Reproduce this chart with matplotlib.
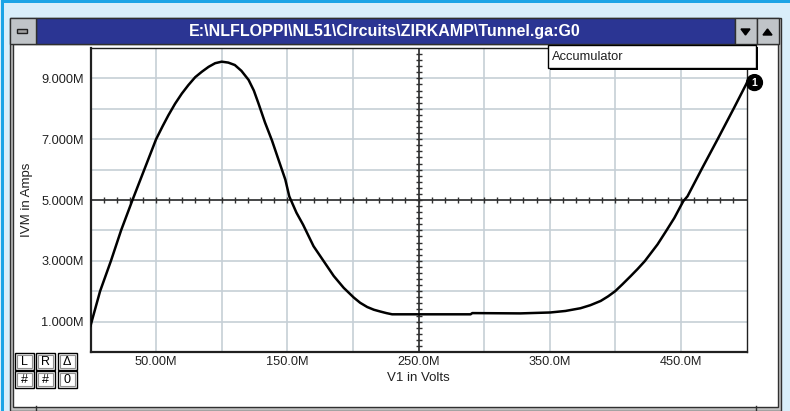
import numpy as np
import matplotlib.pyplot as plt
from matplotlib.patches import Rectangle, Polygon

plt.rcParams['font.family'] = ['Liberation Sans', 'DejaVu Sans']

# data (both axes in "M" units)
v1 = [0, 7.3, 15.6, 23.3, 32, 41, 50, 55, 59.4, 64.5, 69.6, 74.6, 79.8, 84.9,
      90, 95, 100, 105, 110, 115, 120.5, 124.5, 128, 133, 138.3, 143.5, 148.5,
      151.5, 157, 162, 170, 177.7, 185.4, 193, 200.7, 205.5, 210.9, 216,
      221, 225.5, 229.9, 250, 289.7, 291, 327.6, 350.5, 362, 373.5, 381,
      388.9, 394.5, 399.9, 405.5, 411.8, 417, 422.5, 432.2, 438.6, 445,
      451.8, 455, 466, 478, 490.5, 500]
ivm = [0.86, 2.0, 3.0, 4.0, 5.0, 6.0, 7.0, 7.43, 7.79, 8.17, 8.5, 8.78, 9.04,
       9.22, 9.38, 9.5, 9.55, 9.52, 9.44, 9.25, 8.95, 8.6, 8.18, 7.55, 6.96,
       6.3, 5.67, 5.12, 4.58, 4.19, 3.48, 2.99, 2.5, 2.11, 1.79, 1.62, 1.48,
       1.39, 1.33, 1.28, 1.24, 1.24, 1.24, 1.28, 1.27, 1.30, 1.35, 1.44, 1.54,
       1.68, 1.83, 2.0, 2.23, 2.5, 2.73, 2.99, 3.54, 3.97, 4.41, 4.96, 5.12,
       6.03, 7.0, 8.03, 8.83]

xticks = [50, 150, 250, 350, 450]
xtick_labels = ['50.00M', '150.0M', '250.0M', '350.0M', '450.0M']
yticks = [1, 3, 5, 7, 9]
ytick_labels = ['1.000M', '3.000M', '5.000M', '7.000M', '9.000M']
title = r'E:\NLFLOPPI\NL51\CIrcuits\ZIRKAMP\Tunnel.ga:G0'

W, H = 790, 411
fig = plt.figure(figsize=(W / 100, H / 100), dpi=100)
fig.patch.set_facecolor('#d9eefa')

# window chrome, drawn in pixel coordinates
chrome = fig.add_axes([0, 0, 1, 1], zorder=0)
chrome.set_xlim(0, W)
chrome.set_ylim(H, 0)
chrome.axis('off')
chrome.add_patch(Rectangle((0.5, 0.5), 3, H, color='#1ca4e6', lw=0))
chrome.add_patch(Rectangle((0.5, 0.5), W, 3, color='#1ca4e6', lw=0))
chrome.add_patch(Rectangle((9.5, 18.5), 771, 392, facecolor='#c0c0c0',
                           edgecolor='#303030', lw=1))
chrome.add_patch(Rectangle((12.5, 44.5), 765, 362, facecolor='white',
                           edgecolor='#303030', lw=1))
chrome.add_patch(Rectangle((35.5, 18.5), 699, 26, facecolor='#2b3593',
                           edgecolor='#303030', lw=1))
chrome.add_patch(Rectangle((9.5, 18.5), 26, 26, facecolor='#c0c4c8',
                           edgecolor='#303030', lw=1))
chrome.add_patch(Rectangle((17, 29), 10, 4, facecolor='#a0a0a0',
                           edgecolor='#202020', lw=1))
for bx in (734.5, 756.5):
    chrome.add_patch(Rectangle((bx, 18.5), 22, 26, facecolor='#c0c4c8',
                               edgecolor='#303030', lw=1))
chrome.add_patch(Polygon([(741, 29), (750, 29), (745.5, 35)], color='black'))
chrome.add_patch(Polygon([(763, 35), (772, 35), (767.5, 29)], color='black'))
chrome.text(385, 31.5, title, color='white', fontsize=11.5, fontweight='bold',
            ha='center', va='center')
chrome.plot([35.5, 35.5], [406, 411], color='#303030', lw=1)
chrome.plot([755.5, 755.5], [406, 411], color='#303030', lw=1)

# L R delta / # # 0 buttons
btn_text = [['L', 'R', '\u0394'], ['#', '#', '0']]
for r, row in enumerate(btn_text):
    for c, t in enumerate(row):
        x0, y0 = 14.5 + c * 21.5, 352.5 + r * 18.5
        chrome.add_patch(Rectangle((x0, y0), 19, 17, facecolor='white',
                                   edgecolor='black', lw=1))
        chrome.add_patch(Rectangle((x0 + 2, y0 + 2), 15, 13, facecolor='none',
                                   edgecolor='#909090', lw=0.8))
        chrome.text(x0 + 9.5, y0 + 9, t, fontsize=9, ha='center', va='center')

# plot area
left, right, top, bottom = 90.5, 746.5, 48, 352
ax = fig.add_axes([left / W, 1 - bottom / H, (right - left) / W, (bottom - top) / H],
                  zorder=1)
ax.set_facecolor('white')
ax.set_xlim(0, 500)
ax.set_ylim(0, 10)
ax.set_xticks(xticks)
ax.set_xticklabels(xtick_labels)
ax.set_xticks([100, 200, 300, 400], minor=True)
ax.set_yticks(yticks)
ax.set_yticklabels(ytick_labels)
ax.set_yticks([2, 4, 6, 8], minor=True)
ax.tick_params(which='both', length=0, labelsize=9.2, colors='#202020')
ax.tick_params(axis='x', pad=3)
ax.tick_params(axis='y', pad=5)
ax.grid(which='both', color='#c6cfd6', lw=1.2)
ax.set_axisbelow(True)
for s in ax.spines.values():
    s.set_color('#202020')
    s.set_linewidth(1)
ax.spines['left'].set_linewidth(1.6)
ax.spines['bottom'].set_linewidth(1.6)
ax.set_xlabel('V1 in Volts', fontsize=9.5, labelpad=3, color='#202020')
ax.set_ylabel('IVM in Amps', fontsize=9.5, labelpad=6, color='#202020')

# centre cross with ticks
ax.axhline(5, color='#303030', lw=1.2, zorder=2)
ax.axvline(250, color='#303030', lw=1.2, zorder=2)
hx = np.arange(10, 500, 10)
ax.plot(hx, np.full(len(hx), 5.0), ls='none', marker='|', ms=5, mew=1,
        color='#303030', zorder=2)
vy = np.arange(0.2, 10, 0.2)
ax.plot(np.full(len(vy), 250.0), vy, ls='none', marker='_', ms=5, mew=1,
        color='#303030', zorder=2)

ax.plot(v1, ivm, color='black', lw=1.8, zorder=3, solid_joinstyle='round')

# overlay: accumulator box and trace marker
top_ax = fig.add_axes([0, 0, 1, 1], zorder=2)
top_ax.set_xlim(0, W)
top_ax.set_ylim(H, 0)
top_ax.axis('off')
top_ax.patch.set_alpha(0)
top_ax.add_patch(Rectangle((550, 47), 208, 23, facecolor='black', lw=0))
top_ax.add_patch(Rectangle((547.5, 45.5), 208, 23, facecolor='white',
                           edgecolor='black', lw=1))
top_ax.text(552, 57, 'Accumulator', fontsize=9.3, va='center', ha='left',
            color='#202020')
ax.annotate('1', xy=(v1[-1], ivm[-1]), xytext=(8, 1), textcoords='offset pixels',
            ha='center', va='center', color='white', fontsize=7.5, fontweight='bold',
            annotation_clip=False, zorder=5,
            bbox=dict(boxstyle='circle,pad=0.28', fc='black', ec='black'))

fig.savefig('out.png', dpi=100, facecolor=fig.get_facecolor())
